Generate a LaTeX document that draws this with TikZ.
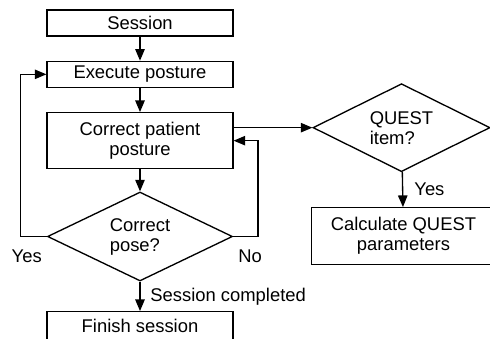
\documentclass[tikz,border=0pt]{standalone}
\usepackage{fontspec}
\setmainfont{Liberation Sans}
\usetikzlibrary{positioning}
\usetikzlibrary{shapes.geometric}
\usetikzlibrary{arrows}
\usetikzlibrary{calc}

\begin{document}
\begin{tikzpicture}[font=\fontsize{13.8}{15}\selectfont, >=triangle 45, line width=1pt,
    box/.style={rectangle, draw=black, minimum width=139.5pt, minimum height=19.5pt, inner sep=0pt, align=center},
    decision/.style={diamond, aspect=2, draw=black, inner sep=0pt, align=left}]
            \path[use as bounding box, clip] (-105pt,17.25pt) rectangle (262.5pt,-237pt);

            \node[box]  (session) at (0,0) {Session};
            \node[box]  (execute) [below=18pt of session] {Execute posture};
            \node[box, minimum height=42pt]  (correct) [below=18pt of execute] {Correct patient\\posture};
            \node[decision, minimum width=138.75pt, minimum height=66.75pt]  (pose) [below=16.5pt of correct] {Correct\\pose?};
            \node[box, minimum height=21pt]  (finish) [below=22pt of pose] {Finish session};
            \node[decision, minimum width=132.75pt, minimum height=66pt]  (quest) [right=59pt of correct, yshift=9.75pt] {QUEST\\item?};
            \node[box, minimum width=138pt, minimum height=42.75pt]  (calc) [below=26pt of quest, xshift=1.5pt] {Calculate QUEST\\parameters};

            \draw[->] (session) -- (execute);
            \draw[->] (execute) -- (correct);
            \draw[->] (correct) -- (pose);
            \draw[->] (pose) -- node[right=4pt] {Session completed} (finish);
            \draw[->] (pose.west) node[below left=6pt and 0pt] {Yes} -- ++(-19.5pt,0) |- (execute.west);
            \draw[->] (pose.east) node[below right=6pt and 0pt] {No} -- ++(18.75pt,0) |- (correct.east);
            \draw[->] (correct.east |- quest.west) -- (quest.west);
            \draw[->] (quest) -- node[right=5pt] {Yes} (calc);
        \end{tikzpicture}
\end{document}
